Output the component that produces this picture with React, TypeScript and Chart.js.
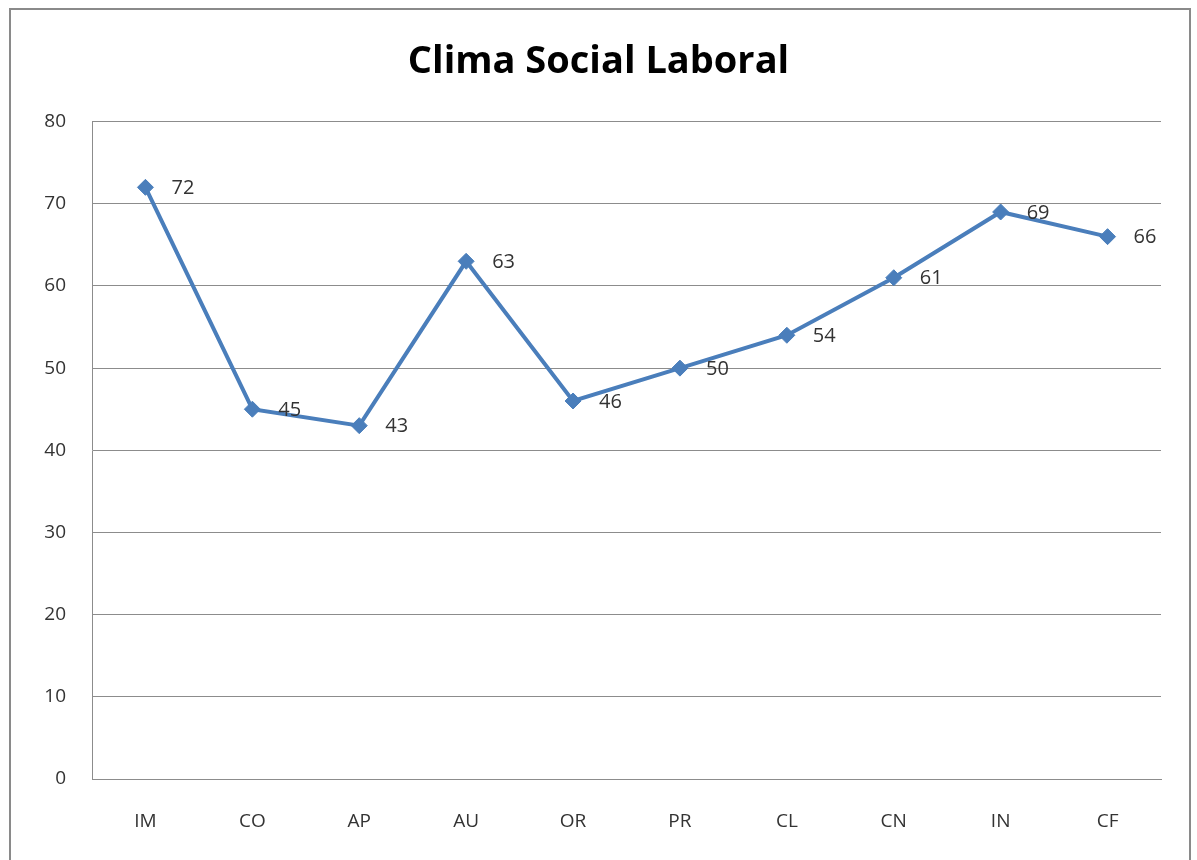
import React, { useEffect, useRef } from "react";
import { Chart, registerables } from "chart.js";

Chart.register(...registerables);

const categories = ["IM", "CO", "AP", "AU", "OR", "PR", "CL", "CN", "IN", "CF"];
const values = [72, 45, 43, 63, 46, 50, 54, 61, 69, 66];
const yTicks = [0, 10, 20, 30, 40, 50, 60, 70, 80];
const titleText = "Clima Social Laboral";

const FONT = "'Open Sans', Lato, sans-serif";
const LINE_COLOR = "#4a7ebb";
const TEXT_COLOR = "#333333";

const dataLabelPlugin = {
  id: "dataLabels",
  afterDatasetsDraw(chart: any) {
    const ctx = chart.ctx;
    const meta = chart.getDatasetMeta(0);
    ctx.save();
    ctx.font = `20px ${FONT}`;
    ctx.fillStyle = TEXT_COLOR;
    ctx.textAlign = "left";
    ctx.textBaseline = "middle";
    meta.data.forEach((pt: any, i: number) => {
      ctx.fillText(String(values[i]), pt.x + 26, pt.y + 1);
    });
    ctx.restore();
  },
};

export default function App() {
  const ref = useRef<HTMLCanvasElement | null>(null);

  useEffect(() => {
    document.body.style.margin = "0";
    const canvas = ref.current;
    if (!canvas) return;
    const chart = new Chart(canvas, {
      type: "line",
      data: {
        labels: categories,
        datasets: [
          {
            data: values,
            borderColor: LINE_COLOR,
            backgroundColor: LINE_COLOR,
            borderWidth: 4,
            pointStyle: "rectRot",
            pointRadius: 8,
            pointHoverRadius: 8,
            pointBackgroundColor: LINE_COLOR,
            pointBorderColor: LINE_COLOR,
            pointBorderWidth: 1,
            tension: 0,
          },
        ],
      },
      options: {
        animation: false,
        responsive: false,
        layout: { padding: { left: 36, right: 36, top: 0, bottom: 0 } },
        plugins: {
          legend: { display: false },
          tooltip: { enabled: false },
          title: {
            display: true,
            text: titleText,
            color: "#000",
            font: { family: FONT, size: 38, weight: "bold" },
            padding: { top: 39, bottom: 37 },
          },
        },
        scales: {
          x: {
            offset: true,
            grid: { display: false, drawTicks: false },
            border: { display: true, color: "#8c8c8c", width: 1 },
            ticks: {
              color: TEXT_COLOR,
              font: { family: FONT, size: 19 },
              padding: 31,
            },
            afterFit(scale: any) {
              scale.height = 81;
            },
          },
          y: {
            min: 0,
            max: 80,
            afterBuildTicks(scale: any) {
              scale.ticks = yTicks.map((v) => ({ value: v }));
            },
            grid: { color: "#8c8c8c", lineWidth: 1, drawTicks: false },
            border: { display: true, color: "#8c8c8c", width: 1 },
            ticks: {
              color: TEXT_COLOR,
              font: { family: FONT, size: 19 },
              padding: 26,
            },
            afterFit(scale: any) {
              scale.width = 56;
            },
          },
        },
      },
      plugins: [dataLabelPlugin],
    });
    return () => chart.destroy();
  }, []);

  return (
    <div
      style={{
        position: "relative",
        width: 1197,
        height: 860,
        background: "#fff",
        overflow: "hidden",
      }}
    >
      <div
        style={{
          position: "absolute",
          left: 9,
          top: 8,
          width: 1178,
          height: 870,
          border: "2px solid #8a8a8a",
        }}
      />
      <canvas
        ref={ref}
        width={1197}
        height={860}
        style={{ position: "absolute", left: 0, top: 0 }}
      />
    </div>
  );
}
